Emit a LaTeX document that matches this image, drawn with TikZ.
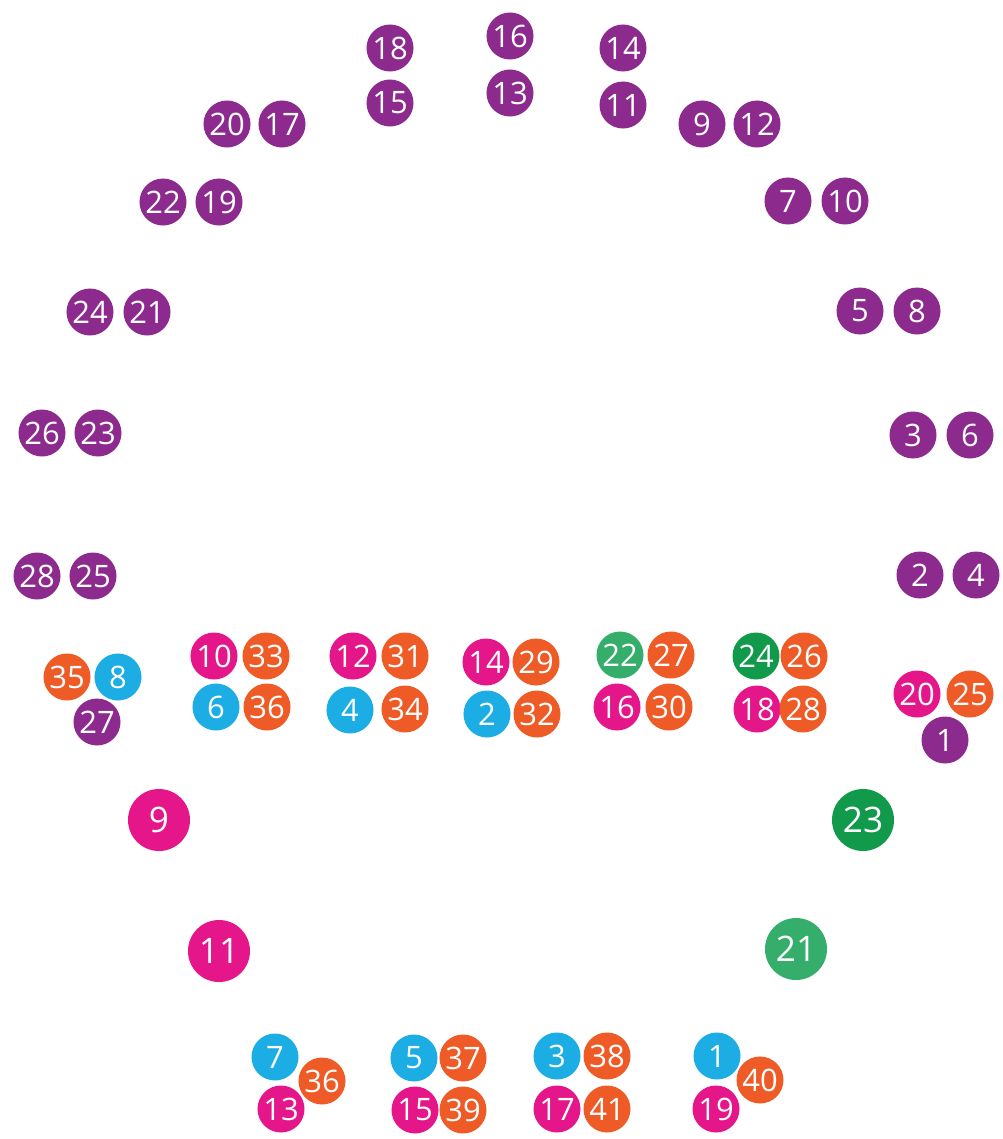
\documentclass[tikz,border=0pt]{standalone}
\usepackage{fontspec}
\setmainfont{Open Sans}

\definecolor{ringpurple}{HTML}{8C2A8E}
\definecolor{seatpink}{HTML}{E5168A}
\definecolor{seatorange}{HTML}{EE5B27}
\definecolor{seatblue}{HTML}{1CADE4}
\definecolor{seatgreen}{HTML}{35AE6C}
\definecolor{darkgreen}{HTML}{119A4B}

\begin{document}
\begin{tikzpicture}[x=0.025cm,y=-0.025cm,
  every node/.style={circle,inner sep=0pt,text=white,font=\fontsize{22}{22}\selectfont,minimum size=1.175cm},
  pu/.style={fill=ringpurple},
  pk/.style={fill=seatpink},
  or/.style={fill=seatorange},
  bl/.style={fill=seatblue},
  gr/.style={fill=seatgreen},
  dg/.style={fill=darkgreen},
  big/.style={minimum size=1.55cm,font=\fontsize{25}{25}\selectfont}]

\useasboundingbox (0,0) rectangle (1003,1139);

% outer ring
\node[pu] (u18) at (390,48) {18};
\node[pu] (u15) at (390,103) {15};
\node[pu] (u16) at (510,36) {16};
\node[pu] (u13) at (510,93) {13};
\node[pu] (u14) at (623,48) {14};
\node[pu] (u11) at (623,105) {11};

\node[pu] (u20) at (227,124) {20};
\node[pu] (u17) at (282,124) {17};
\node[pu] (u9) at (702,124) {9};
\node[pu] (u12) at (757,124) {12};

\node[pu] (u22) at (163,202) {22};
\node[pu] (u19) at (219,202) {19};
\node[pu] (u7) at (788,201) {7};
\node[pu] (u10) at (845,201) {10};

\node[pu] (u24) at (90,312) {24};
\node[pu] (u21) at (147,312) {21};
\node[pu] (u5) at (860,311) {5};
\node[pu] (u8) at (917,311) {8};

\node[pu] (u26) at (42,433) {26};
\node[pu] (u23) at (98,433) {23};
\node[pu] (u3) at (913,435) {3};
\node[pu] (u6) at (970,435) {6};

\node[pu] (u28) at (37,576) {28};
\node[pu] (u25) at (93,576) {25};
\node[pu] (u2) at (920,575) {2};
\node[pu] (u4) at (976,575) {4};

% middle row
\node[or] (o35) at (67,677) {35};
\node[bl] (b8) at (118,677) {8};
\node[pu] (u27) at (97,722) {27};

\node[pk] (k10) at (214,656) {10};
\node[or] (o33) at (266,656) {33};
\node[bl] (b6) at (216,707) {6};
\node[or] (o36a) at (267,707) {36};

\node[pk] (k12) at (353,656) {12};
\node[or] (o31) at (405,656) {31};
\node[bl] (b4) at (350,710) {4};
\node[or] (o34) at (405,709) {34};

\node[pk] (k14) at (486,662) {14};
\node[or] (o29) at (536,662) {29};
\node[bl] (b2) at (487,714) {2};
\node[or] (o32) at (537,714) {32};

\node[gr] (g22) at (620,655) {22};
\node[or] (o27) at (671,655) {27};
\node[pk] (k16) at (617,707) {16};
\node[or] (o30) at (669,707) {30};

\node[dg] (g24) at (756,656) {24};
\node[or] (o26) at (804,656) {26};
\node[pk] (k18) at (757,709) {18};
\node[or] (o28) at (803,709) {28};

\node[pk] (k20) at (917,694) {20};
\node[or] (o25) at (970,694) {25};
\node[pu] (u1) at (945,740) {1};

% big ones
\node[pk,big] (k9) at (159,820) {9};
\node[pk,big] (k11) at (219,951) {11};
\node[dg,big] (g23) at (863,820) {23};
\node[gr,big] (g21) at (796,949) {21};

% bottom row
\node[bl] (b7) at (275,1057) {7};
\node[or] (o36b) at (322,1081) {36};
\node[pk] (k13) at (281,1109) {13};

\node[bl] (b5) at (414,1058) {5};
\node[or] (o37) at (463,1058) {37};
\node[pk] (k15) at (415,1110) {15};
\node[or] (o39) at (463,1110) {39};

\node[bl] (b3) at (557,1056) {3};
\node[or] (o38) at (607,1056) {38};
\node[pk] (k17) at (557,1109) {17};
\node[or] (o41) at (607,1109) {41};

\node[bl] (b1) at (717,1056) {1};
\node[or] (o40) at (760,1080) {40};
\node[pk] (k19) at (716,1109) {19};

\end{tikzpicture}
\end{document}
